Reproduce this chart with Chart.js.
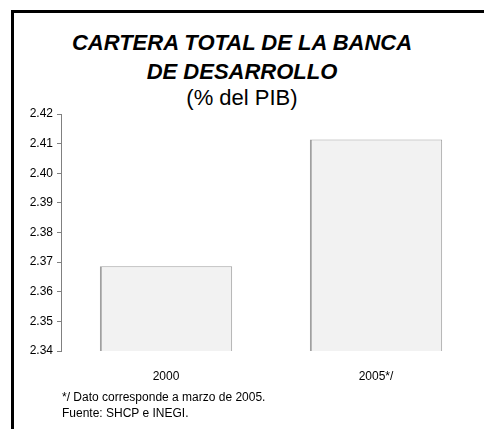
<!DOCTYPE html>
<html>
<head>
<meta charset="utf-8">
<script src="https://cdn.jsdelivr.net/npm/chart.js@4"></script>
<style>
  html, body { margin: 0; padding: 0; background: #fff; }
  body { width: 484px; height: 429px; position: relative; overflow: hidden; font-family: "Liberation Sans", Arial, sans-serif; }
  .frame { position: absolute; left: 11px; top: 10px; width: 500px; height: 500px; border-left: 3px solid #000; border-top: 3px solid #000; }
  .title { position: absolute; left: 0; width: 484px; text-align: center; color: #000; }
  .t1 { top: 28px; font-size: 22px; font-weight: bold; font-style: italic; line-height: 29px; }
  .t2 { top: 86px; font-size: 22px; line-height: 24px; }
  .note { position: absolute; left: 62px; font-size: 12px; color: #000; line-height: 16px; }
  #c { position: absolute; left: 0; top: 0; }
</style>
</head>
<body>
<div class="frame"></div>
<div class="title t1">CARTERA TOTAL DE LA BANCA<br>DE DESARROLLO</div>
<div class="title t2">(% del PIB)</div>
<canvas id="c" width="484" height="429"></canvas>
<div class="note" style="top:389px">*/ Dato corresponde a marzo de 2005.<br>Fuente: SHCP e INEGI.</div>
<script>
const categories = ["2000", "2005*/"];
const values = [2.3686, 2.4114];
const yTicks = [2.34, 2.35, 2.36, 2.37, 2.38, 2.39, 2.40, 2.41, 2.42];

const ctx = document.getElementById("c");

new Chart(ctx, {
    type: "bar",
    data: {
        labels: categories,
        datasets: [{
            data: values,
            backgroundColor: "#f2f2f2",
            borderColor: "#a0a0a0",
            borderWidth: { left: 2, right: 1, top: 1, bottom: 0 },
            borderSkipped: false,
            barPercentage: 0.63,
            categoryPercentage: 1
        }]
    },
    options: {
        responsive: false,
        animation: false,
        layout: { padding: { left: 0, right: 3, top: 114, bottom: 0 } },
        plugins: {
            legend: { display: false },
            tooltip: { enabled: false }
        },
        scales: {
            x: {
                grid: { display: false },
                border: { display: false },
                ticks: { color: "#000", font: { family: "Liberation Sans", size: 12 }, padding: 10 },
                afterFit: s => { s.height = 78; }
            },
            y: {
                min: 2.34,
                max: 2.42,
                afterBuildTicks: s => { s.ticks = yTicks.map(v => ({ value: v })); },
                grid: { drawOnChartArea: false, tickLength: 4, color: "#808080" },
                border: { color: "#808080" },
                ticks: {
                    color: "#000",
                    font: { family: "Liberation Sans", size: 12 },
                    padding: 4,
                    callback: v => v.toFixed(2)
                },
                afterFit: s => { s.width = 61; }
            }
        }
    }
});
</script>
</body>
</html>
